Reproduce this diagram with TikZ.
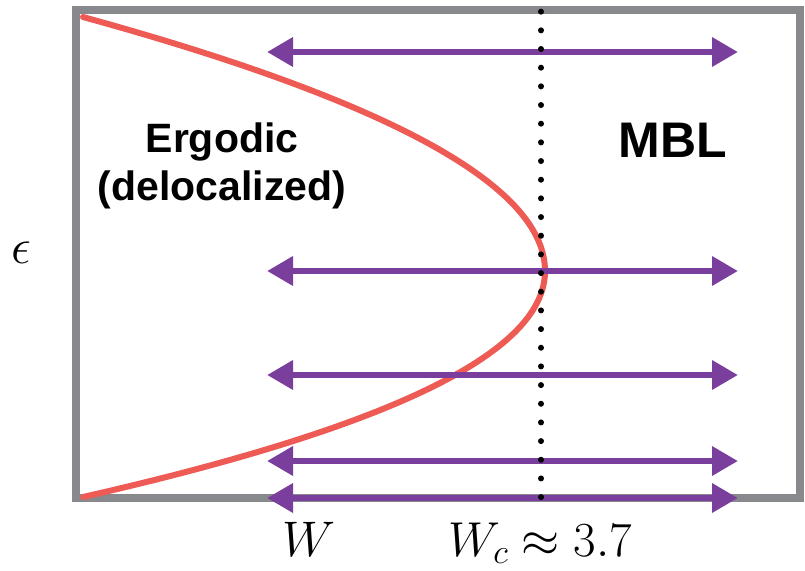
\RequirePackage{fix-cm}
\documentclass[tikz,border=0pt]{standalone}
\usepackage{fontspec}
\setsansfont{Liberation Sans}
\usetikzlibrary{arrows.meta}
\definecolor{framegray}{RGB}{135,137,140}
\definecolor{curvered}{RGB}{238,90,84}
\definecolor{arrowpurple}{RGB}{122,62,156}
\tikzset{
  frameline/.style={draw=framegray,line width=8pt},
  phasecurve/.style={draw=curvered,line width=6pt,line cap=round,line join=round},
  sweeparrow/.style={draw=arrowpurple,line width=6.5pt,
    arrows={Triangle[length=26pt,width=28pt,fill=arrowpurple]-Triangle[length=26pt,width=28pt,fill=arrowpurple]}},
  critline/.style={draw=black,line width=6pt,line cap=round,dash pattern=on 0pt off 18.67pt},
  boldlabel/.style={font=\sffamily\bfseries\fontsize{41}{48}\selectfont,align=center,inner sep=0pt},
  mathlabel/.style={font=\fontsize{50}{60}\selectfont,inner sep=0pt}
}
\begin{document}
\begin{tikzpicture}[x=1pt,y=-1pt]
\useasboundingbox (0,0) rectangle (805,570);
% frame
\draw[frameline] (76,10) rectangle (800,498);
% phase boundary
\draw[phasecurve] plot[smooth,domain=1:0,samples=40,variable=\t] ({545-462*\t*\t},{271-254*\t})
  -- plot[smooth,domain=0:1,samples=40,variable=\t] ({545-462*(0.85*\t*\t+0.15*\t*\t*\t)},{271+226*\t});
% arrows
\foreach \n/\yy in {1/52,2/271,3/375,4/461,5/498}{
  \coordinate (aL\n) at (267,\yy);
  \coordinate (aR\n) at (738,\yy);
  \draw[sweeparrow] (aL\n) -- (aR\n);
}
% critical line
\coordinate (cTop) at (541,11.6);
\coordinate (cBot) at (541,497.1);
\draw[critline] (cBot) -- (cTop);
% labels
\node[boldlabel] (ergodic) at (222,166) {Ergodic\\(delocalized)};
\node[boldlabel,font=\sffamily\bfseries\fontsize{50}{60}\selectfont,anchor=base] (mbl) at (673,157) {MBL};
\node[mathlabel] (eps) at (21,253) {$\epsilon$};
\node[mathlabel,anchor=base] (wlab) at (309,556) {$W$};
\node[mathlabel,font=\fontsize{49}{58}\selectfont,anchor=base] (wclab) at (540,556) {$W_c\approx 3.7$};
\end{tikzpicture}
\end{document}
